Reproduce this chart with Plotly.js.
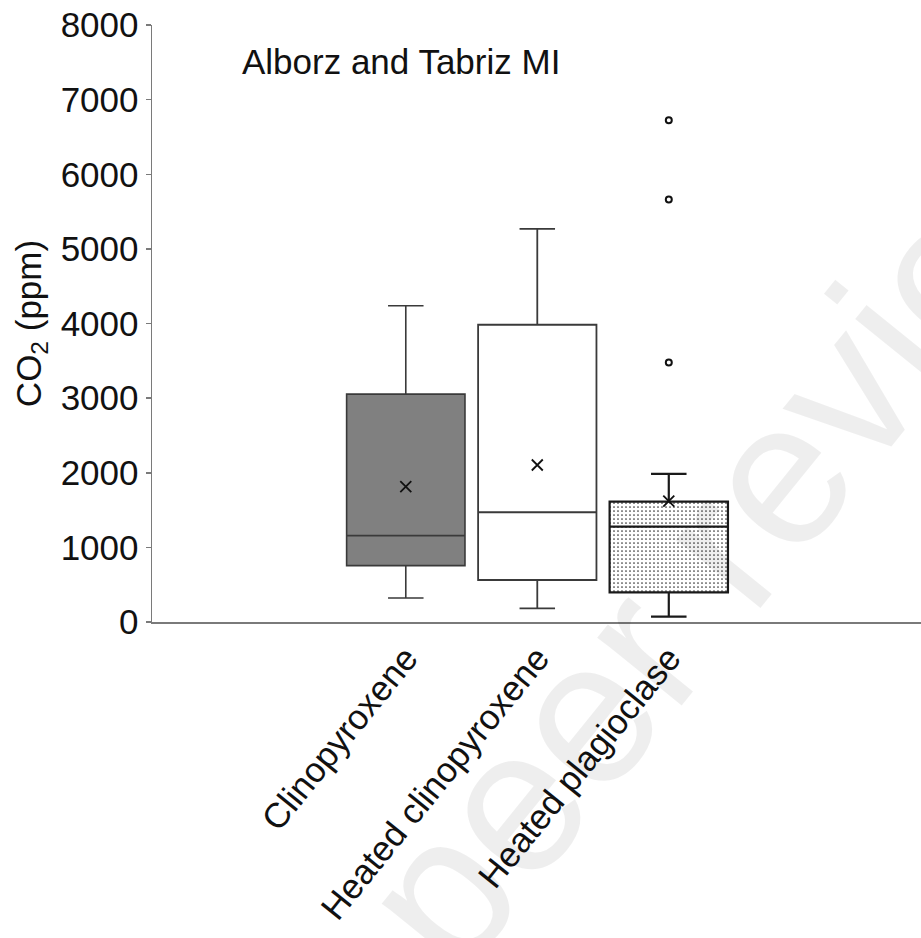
<!DOCTYPE html>
<html>
<head>
<meta charset="utf-8">
<script src="https://cdn.plot.ly/plotly-3.0.1.min.js"></script>
<style>html,body{margin:0;padding:0;background:#fff;}#chart{width:921px;height:938px;}</style>
</head>
<body>
<div id="chart"></div>
<script>
// ---- data ----
const categories = ["Clinopyroxene", "Heated clinopyroxene", "Heated plagioclase"];
const lowerWhisker = [322, 183, 71];
const q1Values = [755, 563, 398];
const medianValues = [1157, 1471, 1278];
const q3Values = [3054, 3983, 1614];
const upperWhisker = [4238, 5267, 1985];
const meanValues = [1813, 2104, 1620];
const outlierCategory = ["Heated plagioclase", "Heated plagioclase", "Heated plagioclase"];
const outlierValues = [6722, 5660, 3478];
const yTicks = [0, 1000, 2000, 3000, 4000, 5000, 6000, 7000, 8000];
const chartTitle = "Alborz and Tabriz MI";
const yTitle = "CO<sub>2</sub> (ppm)";
const watermark = "peer review";

// ---- styles ----
const FONT = "Liberation Sans, Arial, sans-serif";
const FS = 35;
const boxFill = ["#808080", "#ffffff", "rgba(0,0,0,0)"];
const boxLine = ["#3a3a3a", "#3a3a3a", "#1a1a1a"];
const boxLineWidth = [1.6, 1.8, 2.2];

const traces = [];

// dotted background for the plagioclase box (bar spanning q1..q3)
traces.push({
  type: "bar",
  x: [categories[2]],
  base: [q1Values[2]],
  y: [q3Values[2] - q1Values[2]],
  width: 0.9,
  marker: {
    color: "#ffffff",
    line: {width: 0},
    pattern: {shape: ".", fgcolor: "#333333", bgcolor: "#ffffff", size: 4, solidity: 0.14}
  },
  hoverinfo: "skip",
  showlegend: false
});

categories.forEach((c, i) => {
  traces.push({
    type: "box",
    x: [c],
    q1: [q1Values[i]],
    median: [medianValues[i]],
    q3: [q3Values[i]],
    lowerfence: [lowerWhisker[i]],
    upperfence: [upperWhisker[i]],
    width: 0.9,
    whiskerwidth: 0.3,
    fillcolor: boxFill[i],
    line: {color: boxLine[i], width: boxLineWidth[i]},
    boxpoints: false,
    showlegend: false
  });
});

traces.push({
  type: "scatter",
  mode: "markers",
  x: categories,
  y: meanValues,
  marker: {symbol: "x-thin", size: 11, line: {color: "#111111", width: 1.8}},
  showlegend: false
});

traces.push({
  type: "scatter",
  mode: "markers",
  x: outlierCategory,
  y: outlierValues,
  marker: {symbol: "circle-open", size: 6, color: "#111111", line: {color: "#111111", width: 2}},
  showlegend: false
});

const layout = {
  width: 921,
  height: 938,
  paper_bgcolor: "#ffffff",
  plot_bgcolor: "#ffffff",
  margin: {l: 152, r: 0, t: 25, b: 316},
  font: {family: FONT, size: FS, color: "#111111"},
  showlegend: false,
  boxmode: "overlay",
  title: {
    text: chartTitle,
    font: {family: FONT, size: FS, color: "#111111"},
    xref: "paper", x: 0.117, xanchor: "left",
    yref: "container", y: 1 - 62 / 938, yanchor: "middle"
  },
  xaxis: {
    type: "category",
    categoryorder: "array",
    categoryarray: categories,
    range: [-1.93, 3.918],
    showline: true, linecolor: "#7a7a7a", linewidth: 1.5,
    ticks: "", tickangle: -51,
    tickfont: {family: FONT, size: FS, color: "#111111"},
    showgrid: false, zeroline: false
  },
  yaxis: {
    range: [0, 8000],
    tickvals: yTicks,
    ticktext: yTicks.map(String),
    showline: true, linecolor: "#7a7a7a", linewidth: 1.5,
    ticks: "outside", ticklen: 5, tickcolor: "#7a7a7a", tickwidth: 1.5,
    tickfont: {family: FONT, size: FS, color: "#111111"},
    showgrid: false, zeroline: false,
    title: {text: yTitle, font: {family: FONT, size: FS, color: "#111111"}, standoff: 8}
  },
  annotations: [{
    text: watermark,
    xref: "paper", yref: "paper",
    x: (735 - 152) / 769, y: (622 - 525) / 597,
    xanchor: "center", yanchor: "middle",
    showarrow: false,
    textangle: -51,
    font: {family: FONT, size: 205, color: "rgba(0,0,0,0.065)"}
  }]
};

Plotly.newPlot("chart", traces, layout, {displayModeBar: false, staticPlot: true});
</script>
</body>
</html>
